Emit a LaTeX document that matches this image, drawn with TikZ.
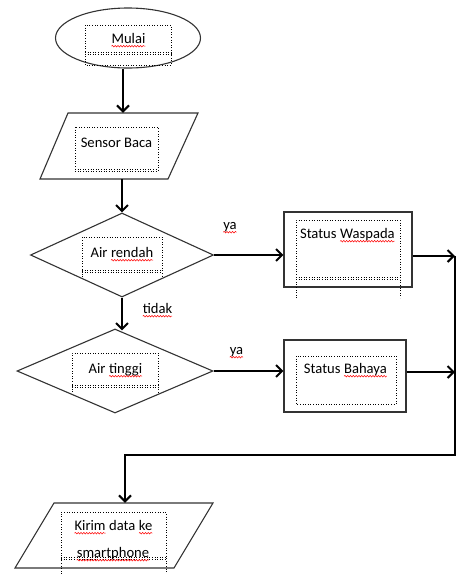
\documentclass[tikz,border=0pt]{standalone}
\usepackage{fontspec}
\setmainfont{Carlito}
\usetikzlibrary{shapes.geometric,arrows.meta,decorations.pathmorphing}
\newcommand\sq[1]{\tikz[baseline=(sqw.base),x=1pt,y=1pt]{\node[inner sep=0pt,outer sep=0pt,anchor=center,draw=none] (sqw) at (0,0) {#1};\draw[red,line width=0.5pt,decorate,decoration={snake,amplitude=0.8pt,segment length=2.8pt}] ([yshift=-3.2pt]sqw.base west) -- ([yshift=-3.2pt]sqw.base east);}}
\begin{document}
\begin{tikzpicture}[x=1pt,y=-1pt,
 shp/.style={draw=black!80,line width=1.1pt,inner sep=0pt},
 anc/.style={inner sep=0pt},
 txt/.style={font=\fontsize{14.6}{18}\selectfont,text=black,inner sep=0pt,anchor=base},
 flow/.style={line width=2pt,line join=miter,-{Straight Barb[length=6pt,width=12pt,line width=2pt]}},
 tb/.style={line width=0.6pt,dotted}]
\useasboundingbox[fill=white] (0,0) rectangle (457,574);

% shapes
\node[shp,ellipse,minimum width=145,minimum height=60] (mulai) at (128,38) {};
\node[anc,minimum width=158,minimum height=66] (sensor) at (119,146) {};
\draw[shp] (68,113) -- (198,113) -- (168,179) -- (40,179) -- cycle;
\node[shp,diamond,minimum width=183,minimum height=84] (d1) at (122,255) {};
\node[shp,diamond,minimum width=196,minimum height=84] (d2) at (115,371) {};
\node[shp,minimum width=128,minimum height=75] (wasp) at (348,249.5) {};
\node[shp,minimum width=122,minimum height=72] (bah) at (345,376) {};
\node[anc,minimum width=198,minimum height=65] (kirim) at (114,535.5) {};
\draw[shp] (54,503) -- (213,503) -- (174,568) -- (15,568) -- cycle;

% dotted text boxes
\draw[tb] (85,25) rectangle (171,65);
\draw[tb] (85,52) -- (171,52) (85,54) -- (171,54);
\draw[tb] (75,127) rectangle (158,171);
\draw[tb] (75,169.5) -- (158,169.5);
\draw[tb] (82,277) -- (82,237) -- (162,237) -- (162,277);
\draw[tb] (82,270) -- (162,270) (82,272) -- (162,272);
\draw[tb] (296,298) -- (296,220) -- (400,220) -- (400,298);
\draw[tb] (296,277) -- (400,277) (296,279) -- (400,279);
\draw[tb] (72,392) -- (72,353) -- (158,353) -- (158,392);
\draw[tb] (72,385) -- (158,385) (72,387) -- (158,387);
\draw[tb] (296,356) rectangle (396,404);
\draw[tb] (61,574) -- (61,512) -- (166,512) -- (166,574);
\draw[tb] (61,557) -- (166,557) (61,559) -- (166,559);

% texts
\node[txt] (tmulai) at (128.5,43) {\sq{Mulai}};
\node[txt] (tsensor) at (116.5,147) {Sensor Baca};
\node[txt] (td1) at (122,257) {Air \sq{rendah}};
\node[txt] (twasp) at (347.5,238) {Status \sq{Waspada}};
\node[txt] (ya1) at (230,229) {\sq{ya}};
\node[txt] (tidak) at (157.5,313) {\sq{tidak}};
\node[txt] (td2) at (115.5,373) {Air \sq{tinggi}};
\node[txt] (ya2) at (236.5,354) {\sq{ya}};
\node[txt] (tbah) at (345.5,373) {Status \sq{Bahaya}};
\node[txt] (tk1) at (113.5,530) {\sq{Kirim} data \sq{ke}};
\node[txt] (tk2) at (113,557) {\sq{smartphone}};

% connectors
\coordinate (r1) at (455,256);
\coordinate (r2) at (455,372);
\coordinate (r3) at (455,455);
\coordinate (c1) at (125,455);
\draw[flow] ([xshift=-5pt]mulai.south) -- ([xshift=-5pt]mulai.south |- sensor.north);
\draw[flow] (d1.north |- sensor.south) -- (d1.north);
\draw[flow] (d1.south) -- ([yshift=-2pt]d1.south |- d2.north);
\draw[flow] (d1.east) -- (d1.east -| wasp.west);
\draw[flow] (d2.east) -- (d2.east -| bah.west);
\draw[flow] (wasp.east |- r1) -- (r1);
\draw[flow] (bah.east |- r2) -- (r2);
\draw[flow] (r1) -- (r3) -- (c1) -- (c1 |- kirim.north);
\end{tikzpicture}
\end{document}
